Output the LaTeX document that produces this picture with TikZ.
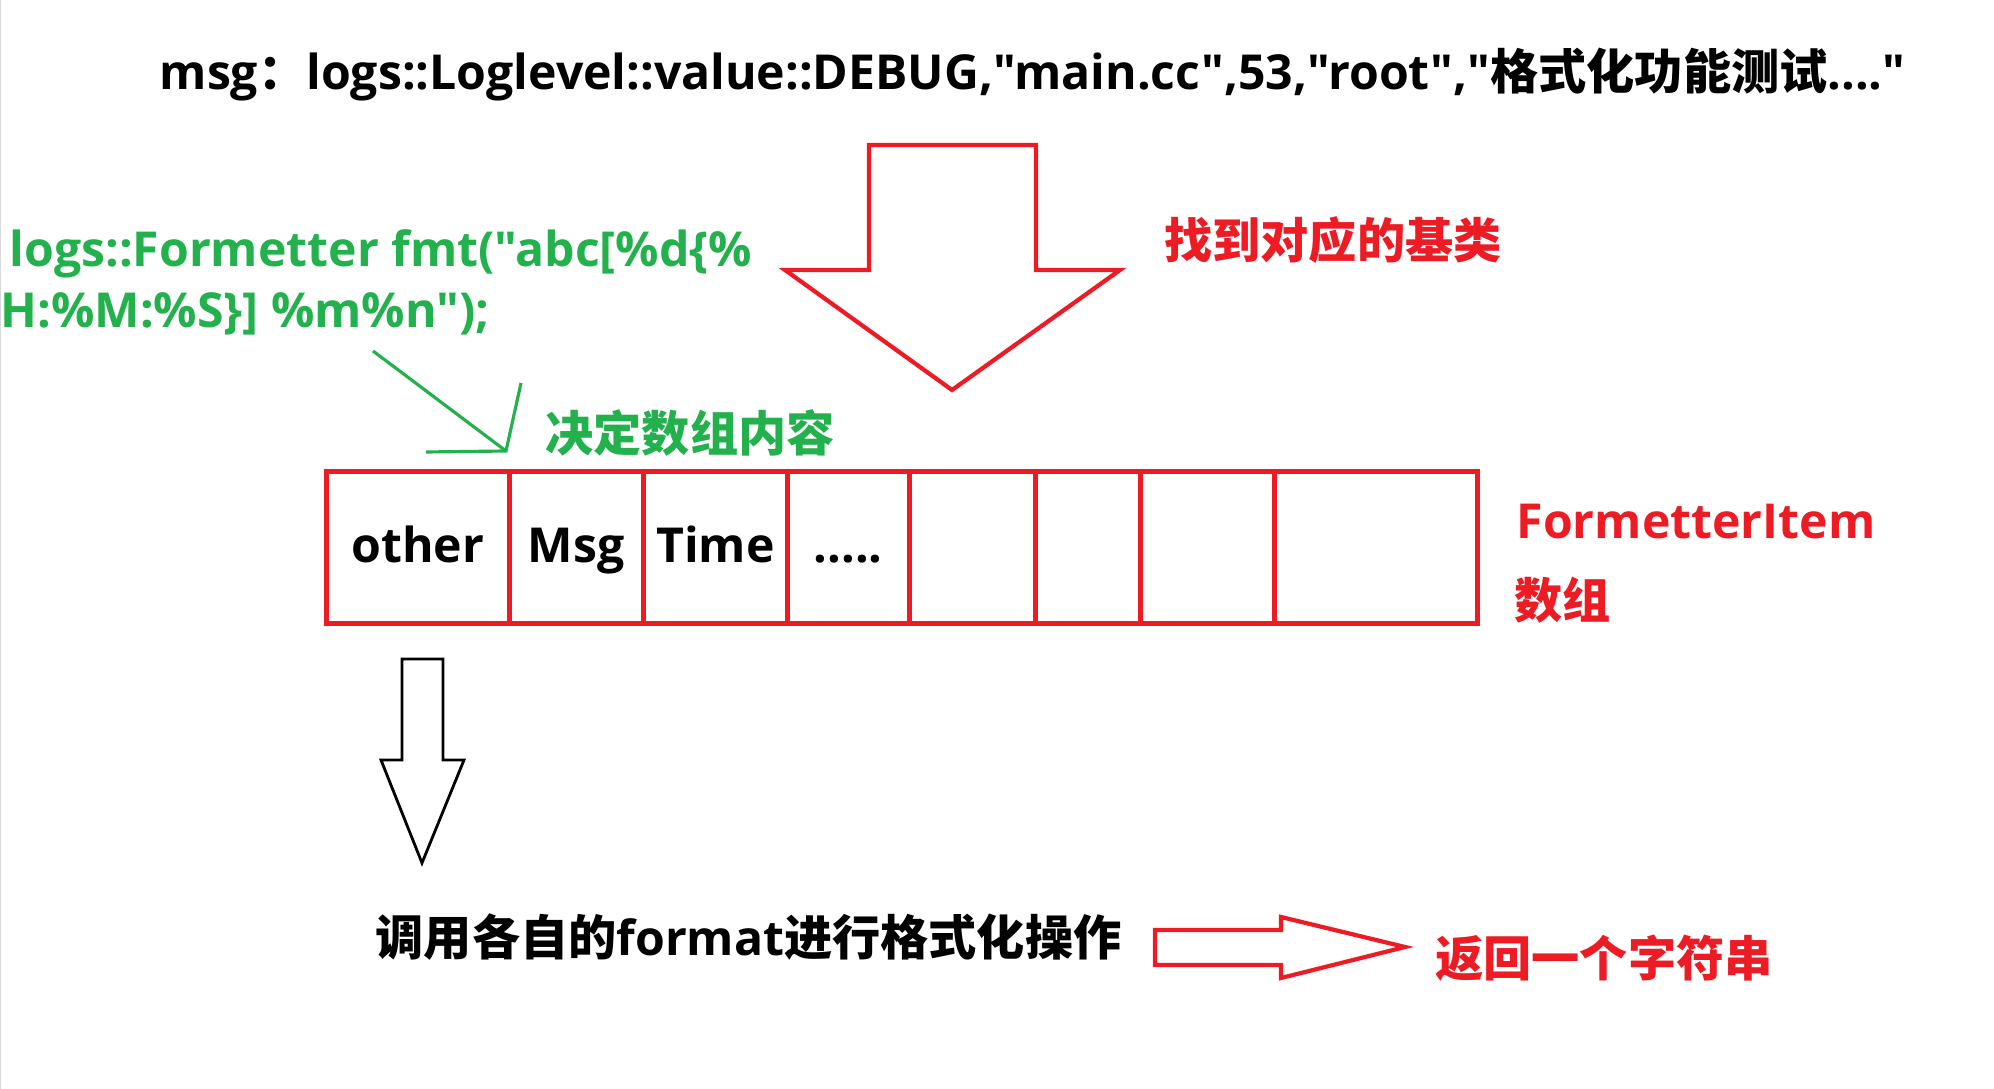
\documentclass[tikz,border=0pt]{standalone}
\usepackage{fontspec}
\setmainfont{Open Sans}[Ligatures=TeXOff]
\newfontfamily\cjk{Noto Sans CJK SC}
\usetikzlibrary{positioning}
\definecolor{pred}{RGB}{237,28,36}
\definecolor{pgreen}{RGB}{34,177,76}
\newcommand{\moredots}{.....}
\newcommand{\dq}{\char34 }

\begin{document}
\begin{tikzpicture}[x=0.01cm,y=-0.01cm,line join=miter,
  txt/.style={inner sep=0pt,font=\fontsize{13.7pt}{16pt}\selectfont\bfseries},
  cell/.style={draw=pred,line width=1.3pt,minimum height=1.52cm,inner sep=0pt,
    text height=0.9em,text depth=0.05em,font=\fontsize{13.7pt}{16pt}\selectfont\bfseries},
  redarrow/.style={draw=pred,line width=1.2pt},
  ]
\useasboundingbox (0,0) rectangle (1994,1089);
\draw[black!15,line width=0.4pt] (0.5,0) -- (0.5,1089);
% ---------- the call ----------
\node[txt,anchor=base west] (msg) at (159,90)
  {msg{\cjk ：}logs::Loglevel::value::DEBUG,\dq main.cc\dq,53,\dq root\dq,\dq{\cjk 格式化功能测试}....\dq};
% ---------- formatter pattern ----------
\node[txt,text=pgreen,anchor=base west] (fmtA) at (9,267) {logs::Formetter fmt(\dq abc[\%d\{\%};
\node[txt,text=pgreen,anchor=base west] (fmtB) at (0,328) {H:\%M:\%S\}] \%m\%n\dq);};
\node[txt,text=pgreen,font=\cjk\fontsize{13.7pt}{16pt}\selectfont\bfseries] (decide) at (690,433) {决定数组内容};
\coordinate (gs) at (373,351);
\coordinate (ge) at (506,451);
\draw[pgreen,line width=0.9pt] (gs) -- (ge);
\draw[pgreen,line width=0.9pt] (521,383) -- (ge) -- (426,452);
% ---------- big red arrow ----------
\draw[redarrow] (869,145) -- (1036,145) -- (1036,270) -- (1120,270) -- (952,390)
  -- (785,270) -- (869,270) -- cycle;
\node[txt,text=pred,font=\cjk\fontsize{13.7pt}{16pt}\selectfont\bfseries] (base) at (1333,240) {找到对应的基类};
% ---------- FormetterItem array ----------
\foreach \n/\xl/\xr/\lab in {1/324/507/other,2/507/641/Msg,3/641/785/Time,4/785/907/\moredots,
  5/907/1033/,6/1033/1138/,7/1138/1272/,8/1272/1475/}{
  \pgfmathsetmacro{\w}{(\xr-\xl)*0.01}
  \node[cell,minimum width=\w cm,anchor=north west] (c\n) at (\xl,469) {\lab};
}
\node[txt,text=pred,anchor=base west] (item) at (1516,539) {FormetterItem};
\node[txt,text=pred,anchor=west,font=\cjk\fontsize{13.7pt}{16pt}\selectfont\bfseries] (arr) at (1514,600) {数组};
% ---------- black arrow down ----------
\draw[line width=0.8pt] (402,659) -- (443,659) -- (443,760) -- (464,760) -- (422,863)
  -- (381,760) -- (402,760) -- cycle;
\node[txt,anchor=west] (call) at (375,937)
  {{\cjk 调用各自的}format{\cjk 进行格式化操作}};
% ---------- red arrow right ----------
\draw[redarrow] (1155,930) -- (1281,930) -- (1281,917) -- (1405,947) -- (1281,978)
  -- (1281,965) -- (1155,965) -- cycle;
\node[txt,text=pred,font=\cjk\fontsize{13.7pt}{16pt}\selectfont\bfseries] (ret) at (1604,958) {返回一个字符串};
\end{tikzpicture}
\end{document}
